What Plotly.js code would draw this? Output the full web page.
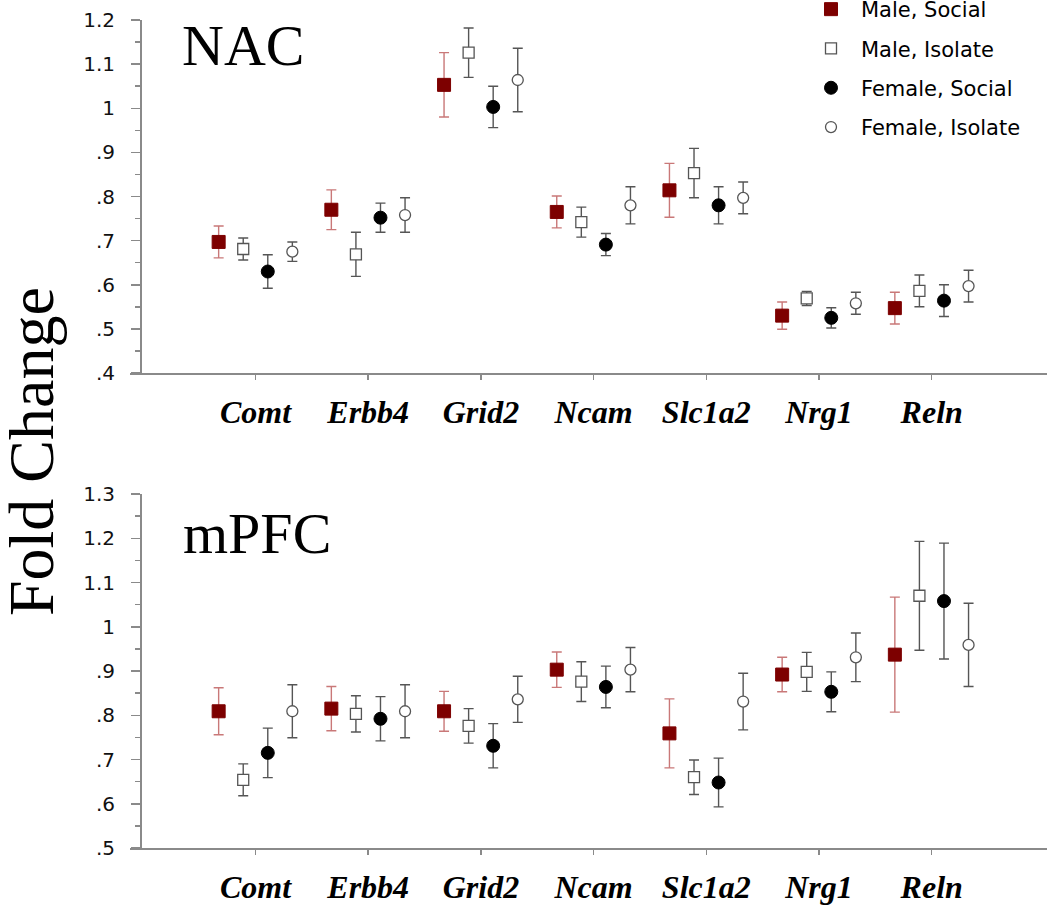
<!DOCTYPE html>
<html>
<head>
<meta charset="utf-8">
<script src="https://cdn.plot.ly/plotly-3.0.1.min.js"></script>
<style>html,body{margin:0;padding:0;background:#fff;}#chart{width:1050px;height:906px;}</style>
</head>
<body>
<div id="chart"></div>
<script>
const genes = ['Comt', 'Erbb4', 'Grid2', 'Ncam', 'Slc1a2', 'Nrg1', 'Reln'];
const seriesNames = ['Male, Social', 'Male, Isolate', 'Female, Social', 'Female, Isolate'];

// NAC panel
const nacMaleSocial      = [0.697, 0.770, 1.053, 0.765, 0.814, 0.530, 0.547];
const nacMaleSocialErr   = [0.036, 0.045, 0.073, 0.036, 0.061, 0.031, 0.036];
const nacMaleIsolate     = [0.681, 0.669, 1.126, 0.742, 0.853, 0.569, 0.586];
const nacMaleIsolateErr  = [0.025, 0.050, 0.056, 0.034, 0.056, 0.016, 0.036];
const nacFemaleSocial    = [0.630, 0.752, 1.003, 0.691, 0.780, 0.525, 0.564];
const nacFemaleSocialErr = [0.038, 0.033, 0.047, 0.025, 0.042, 0.023, 0.036];
const nacFemaleIsolate   = [0.675, 0.758, 1.064, 0.780, 0.797, 0.558, 0.597];
const nacFemaleIsolateErr= [0.022, 0.039, 0.072, 0.042, 0.036, 0.025, 0.036];

// mPFC panel
const pfcMaleSocial      = [0.809, 0.815, 0.809, 0.903, 0.759, 0.892, 0.937];
const pfcMaleSocialErr   = [0.053, 0.050, 0.045, 0.040, 0.078, 0.039, 0.130];
const pfcMaleIsolate     = [0.654, 0.803, 0.776, 0.876, 0.660, 0.898, 1.070];
const pfcMaleIsolateErr  = [0.036, 0.041, 0.039, 0.045, 0.039, 0.044, 0.123];
const pfcFemaleSocial    = [0.715, 0.792, 0.731, 0.864, 0.648, 0.853, 1.058];
const pfcFemaleSocialErr = [0.056, 0.050, 0.050, 0.047, 0.055, 0.045, 0.131];
const pfcFemaleIsolate   = [0.809, 0.809, 0.836, 0.903, 0.831, 0.931, 0.959];
const pfcFemaleIsolateErr= [0.060, 0.060, 0.052, 0.050, 0.064, 0.055, 0.094];

// tick labels
const nacTickVals  = [0.4, 0.5, 0.6, 0.7, 0.8, 0.9, 1.0, 1.1, 1.2];
const nacTickText  = ['.4', '.5', '.6', '.7', '.8', '.9', '1', '1.1', '1.2'];
const pfcTickVals  = [0.5, 0.6, 0.7, 0.8, 0.9, 1.0, 1.1, 1.2, 1.3];
const pfcTickText  = ['.5', '.6', '.7', '.8', '.9', '1', '1.1', '1.2', '1.3'];

// ---- styling / geometry ----
const W = 1050, H = 906;
const M = {l: 130, r: 3, t: 20, b: 58};
const plotW = W - M.l - M.r, plotH = H - M.t - M.b;
const px2x = p => (p - M.l) / plotW;
const py2y = p => (H - M.b - p) / plotH;

const offsets = [-0.327, -0.109, 0.109, 0.327];
const styles = [
  {symbol: 'square', size: 13, color: '#7d0000', line: {color: '#7d0000', width: 1}, err: '#c97878'},
  {symbol: 'square', size: 11, color: '#fff', line: {color: '#555', width: 1.3}, err: '#555'},
  {symbol: 'circle', size: 13, color: '#000', line: {color: '#000', width: 1}, err: '#555'},
  {symbol: 'circle', size: 11, color: '#fff', line: {color: '#555', width: 1.3}, err: '#555'}
];

const nacSeries = [[nacMaleSocial, nacMaleSocialErr], [nacMaleIsolate, nacMaleIsolateErr],
                   [nacFemaleSocial, nacFemaleSocialErr], [nacFemaleIsolate, nacFemaleIsolateErr]];
const pfcSeries = [[pfcMaleSocial, pfcMaleSocialErr], [pfcMaleIsolate, pfcMaleIsolateErr],
                   [pfcFemaleSocial, pfcFemaleSocialErr], [pfcFemaleIsolate, pfcFemaleIsolateErr]];

function makeTrace(vals, errs, i, xa, ya, showLegend) {
  const s = styles[i];
  return {
    type: 'scatter', mode: 'markers',
    x: genes.map((g, k) => k + offsets[i]),
    y: vals,
    error_y: {type: 'data', array: errs, visible: true, color: s.err, thickness: 1.4, width: 5},
    marker: {symbol: s.symbol, size: s.size, color: s.color, line: s.line},
    name: seriesNames[i],
    legendgroup: 'g' + i,
    showlegend: showLegend,
    xaxis: xa, yaxis: ya,
    cliponaxis: false,
    hoverinfo: 'skip'
  };
}

const traces = [];
nacSeries.forEach((s, i) => traces.push(makeTrace(s[0], s[1], i, 'x', 'y', true)));
pfcSeries.forEach((s, i) => traces.push(makeTrace(s[0], s[1], i, 'x2', 'y2', false)));

const axisColor = '#8a8a8a';
const catFont = {family: 'Liberation Serif, Times New Roman, serif', size: 32, color: '#000', weight: 'bold', style: 'italic'};
const numFont = {family: 'DejaVu Sans, sans-serif', size: 20, color: '#111'};
const xRange = [(M.l - 255.5) / 112.7, (W - M.r - 255.5) / 112.7];
const yPos = 10 / plotW;

function xAxis(anchor) {
  return {
    domain: [0, 1], range: xRange, anchor: anchor,
    showline: true, linecolor: axisColor, linewidth: 1.5,
    ticks: 'outside', ticklen: 5, tickcolor: axisColor, tickwidth: 1.5,
    tickmode: 'array', tickvals: genes.map((g, k) => k), ticktext: genes,
    tickfont: catFont, ticklabelstandoff: 5,
    showgrid: false, zeroline: false, fixedrange: true
  };
}
function yAxis(domain, range, tv, tt) {
  return {
    domain: domain, range: range, anchor: 'free', position: yPos,
    showline: true, linecolor: axisColor, linewidth: 1.5,
    ticks: 'outside', ticklen: 9, tickcolor: axisColor, tickwidth: 1.5,
    tickmode: 'array', tickvals: tv, ticktext: tt,
    tickfont: numFont, ticklabelstandoff: 12,
    minor: {tickmode: 'linear', tick0: range[0] + 0.05, dtick: 0.1, ticks: 'outside', ticklen: 5, tickcolor: axisColor, tickwidth: 1.5, showgrid: false},
    showgrid: false, zeroline: false, fixedrange: true
  };
}

const topDomain = [py2y(373), 1];
const botDomain = [0, py2y(494)];

const layout = {
  width: W, height: H,
  margin: {l: M.l, r: M.r, t: M.t, b: M.b, autoexpand: false},
  paper_bgcolor: '#fff', plot_bgcolor: '#fff',
  showlegend: true,
  xaxis: xAxis('y'),
  yaxis: yAxis(topDomain, [0.4, 1.2], nacTickVals, nacTickText),
  xaxis2: xAxis('y2'),
  yaxis2: yAxis(botDomain, [0.5, 1.3], pfcTickVals, pfcTickText),
  legend: {
    x: px2x(801), y: py2y(-11), xanchor: 'left', yanchor: 'top',
    font: {family: 'DejaVu Sans, sans-serif', size: 21, color: '#000'},
    bgcolor: 'rgba(0,0,0,0)', borderwidth: 0,
    traceorder: 'grouped', tracegroupgap: 9, itemwidth: 50
  },
  annotations: [
    {text: 'NAC', xref: 'paper', yref: 'paper', x: px2x(180), y: py2y(69), xanchor: 'left', yanchor: 'bottom',
     showarrow: false, font: {family: 'Liberation Serif, Times New Roman, serif', size: 58, color: '#000'}, yshift: -11},
    {text: 'mPFC', xref: 'paper', yref: 'paper', x: px2x(181), y: py2y(556), xanchor: 'left', yanchor: 'bottom',
     showarrow: false, font: {family: 'Liberation Serif, Times New Roman, serif', size: 58, color: '#000'}, yshift: -12},
    {text: 'Fold Change', xref: 'paper', yref: 'paper', x: px2x(31), y: py2y(452), xanchor: 'center', yanchor: 'middle',
     textangle: -90, showarrow: false, font: {family: 'Liberation Serif, Times New Roman, serif', size: 64, color: '#000'}}
  ]
};

Plotly.newPlot('chart', traces, layout, {displayModeBar: false, staticPlot: true});
</script>
</body>
</html>
